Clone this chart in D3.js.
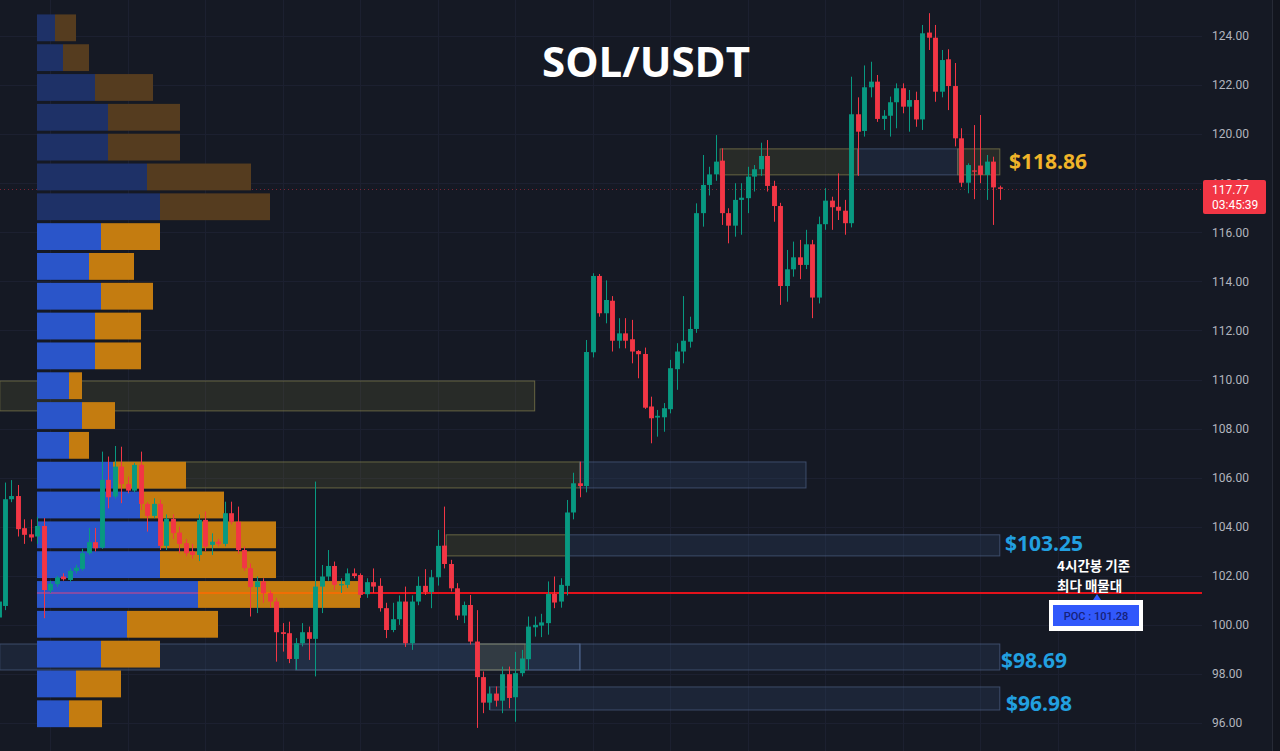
<!DOCTYPE html>
<html><head><meta charset="utf-8">
<script src="https://cdn.jsdelivr.net/npm/d3@7"></script>
<style>
html,body{margin:0;padding:0;background:#151924;overflow:hidden}
svg{display:block}
</style></head><body>
<svg id="chart" width="1280" height="751"></svg>
<script>
// ---------------- DATA ----------------
const title = "SOL/USDT";
const priceTicks = [96,98,100,102,104,106,108,110,112,114,116,118,120,122,124];
// 4h candles [open, high, low, close]
const candles = [
[100.3,101.1,100.1,100.95],[100.77,105.8,100.6,105.12],[105.12,105.9,105.0,105.25],[105.25,105.7,103.6,103.9],
[103.94,104.3,103.3,103.67],[103.69,104.3,103.4,103.56],[103.6,104.4,103.3,104.03],[104.03,104.35,100.27,101.42],
[101.4,101.8,101.3,101.67],[101.66,102.0,101.55,101.93],[101.97,102.1,101.8,101.86],[101.83,102.3,101.75,102.2],
[102.2,102.45,102.1,102.33],[102.28,103.1,102.2,102.92],[102.92,103.95,102.85,103.37],[103.37,103.95,102.99,103.12],
[103.15,107.06,103.1,105.91],[105.91,106.86,104.75,105.2],[105.23,107.29,105.15,106.45],[106.45,107.26,104.96,105.74],
[105.74,106.04,105.36,105.47],[105.47,106.6,105.4,106.52],[106.52,107.06,104.68,104.93],[104.93,105.0,103.8,104.44],
[104.44,105.16,104.35,104.93],[104.93,105.1,103.05,103.22],[103.22,104.5,103.05,104.32],[104.32,104.5,103.5,103.74],
[103.76,104.0,102.92,103.3],[103.33,103.5,102.8,102.92],[102.99,103.3,102.7,102.85],[102.85,104.5,102.6,104.28],
[104.28,104.62,103.0,103.19],[103.26,103.73,102.85,103.39],[103.39,103.5,103.2,103.3],[103.3,105.02,103.2,104.55],
[104.55,105.02,104.1,104.2],[104.2,104.82,102.9,103.05],[103.05,103.2,102.2,102.31],[102.31,102.5,100.34,101.54],
[101.54,101.97,100.48,101.77],[101.77,101.9,100.9,101.29],[101.29,101.4,100.7,100.95],[100.95,101.1,98.5,99.7],
[99.7,100.07,98.91,99.63],[99.66,100.13,98.44,98.61],[98.61,99.46,98.16,99.25],[99.25,100.07,99.12,99.7],
[99.7,99.93,98.57,99.43],[99.43,105.84,97.9,101.56],[101.56,102.44,100.48,101.97],[101.97,103.05,101.8,102.4],
[102.4,102.58,101.42,101.63],[101.62,101.9,101.3,101.66],[101.63,102.3,101.5,102.1],[102.1,102.3,101.9,101.99],
[102.03,102.1,101.1,101.22],[101.25,101.9,101.1,101.74],[101.74,102.3,101.3,101.56],[101.59,101.9,100.54,100.68],
[100.68,100.9,99.46,99.79],[99.79,100.9,99.7,100.23],[100.23,101.2,100.0,100.95],[100.95,101.56,99.1,99.25],
[99.25,101.2,98.98,100.95],[100.95,101.97,100.8,101.59],[101.59,102.27,101.22,101.34],[101.34,102.24,100.68,101.94],
[101.94,103.87,101.6,103.22],[103.23,104.82,102.3,102.48],[102.48,102.65,101.36,101.49],[101.49,101.7,100.2,100.38],
[100.38,100.95,100.07,100.81],[100.81,101.22,99.2,99.32],[99.32,100.6,95.8,97.87],[97.87,98.1,96.4,96.83],
[96.83,97.49,96.53,97.2],[97.2,97.49,96.67,96.91],[96.91,98.3,96.4,97.99],[97.99,98.3,96.6,97.02],
[97.05,98.9,96.05,98.03],[98.03,98.98,97.9,98.63],[98.6,100.34,98.16,99.93],[99.9,100.34,99.52,100.0],
[99.97,100.45,99.5,100.1],[100.07,101.77,99.6,101.26],[101.26,101.97,100.68,100.91],[100.95,101.9,100.7,101.63],
[101.59,105.09,101.2,104.58],[104.58,106.2,104.3,105.77],[105.77,106.65,105.2,105.66],[105.66,111.61,105.4,111.12],
[111.11,114.33,110.9,114.22],[114.22,114.3,112.56,112.7],[112.7,114.04,112.29,113.24],[113.21,113.4,111.14,111.58],
[111.58,112.5,111.27,111.88],[111.88,112.5,111.27,111.58],[111.64,112.43,110.66,111.14],[111.16,111.2,110.05,111.03],
[111.04,111.3,108.8,108.85],[108.9,109.3,107.4,108.42],[108.45,108.76,107.67,108.52],[108.46,109.04,107.87,108.83],
[108.79,110.8,108.62,110.46],[110.42,111.48,109.58,111.14],[111.14,113.4,110.66,111.58],[111.54,112.56,111.3,112.06],
[112.06,117.18,111.9,116.78],[116.78,119.15,116.23,117.93],[117.93,118.67,117.5,118.36],[118.36,119.96,118.1,118.88],
[118.92,119.42,116.3,116.78],[116.78,116.98,115.55,116.27],[116.27,118.0,115.82,117.32],[117.32,118.0,115.9,117.41],
[117.39,118.67,116.78,118.27],[118.27,118.74,117.66,118.57],[118.57,119.65,118.3,119.11],[119.11,119.76,117.66,117.89],
[117.89,118.1,116.43,117.07],[117.07,117.2,113.04,113.81],[113.81,115.28,113.17,114.49],[114.49,115.62,114.19,114.98],
[114.98,115.69,114.09,114.67],[114.67,116.1,114.5,115.51],[115.51,115.69,112.5,113.34],[113.34,116.64,113.1,116.33],
[116.33,117.8,116.1,117.29],[117.29,117.45,116.1,117.02],[117.04,118.4,116.5,116.88],[116.88,117.32,115.9,116.37],
[116.37,122.34,116.2,120.81],[120.81,121.5,118.3,120.1],[120.13,122.8,119.9,121.91],[121.91,122.95,121.5,122.14],
[122.14,122.41,120.5,120.62],[120.62,120.98,120.17,120.75],[120.75,121.53,119.9,121.3],[121.3,122.07,120.24,121.87],
[121.87,122.07,120.85,121.12],[121.12,121.8,120.1,121.39],[121.39,121.73,120.3,120.6],[120.6,124.45,120.17,124.11],
[124.14,124.93,123.43,123.93],[123.93,124.45,121.32,121.73],[121.73,123.43,121.5,123.02],[123.05,123.46,120.98,121.96],
[121.96,122.9,119.5,119.83],[119.83,120.24,117.85,118.02],[118.02,118.81,117.59,118.74],[118.52,120.37,117.35,118.48],
[118.72,120.78,118.0,118.34],[118.34,119.15,117.32,118.88],[118.88,119.08,116.3,117.83],[117.83,117.9,117.32,117.77]
];
// Volume profile (24 price rows, top -> bottom)
const vpTopPrice = 124.9;
const vpRowSize = 1.2155;
const vpBuy  = [18,26,58,71,71,110,123, 64,52,64,58,58,32,45,32,76,103,123,123,161,90,64,39,32];
const vpSell = [21,26,58,72,72,104,110, 59,45,52,46,46,13,33,20,73,84,116,116,162,91,59,45,33];
const vpValueAreaFrom = 7;
const pocPrice = 101.28;
const lastPrice = 117.77;
const countdown = "03:45:39";
// zones: [kind, startCandle, endCandle, topPrice, bottomPrice]
const zones = [
 ["olive",0.2,83,109.94,108.72],
 ["olive",18,90,106.64,105.58],["blue",90,125,106.64,105.58],
 ["olive",69.3,88,103.67,102.81],["blue",88,155,103.67,102.81],
 ["blue",0.2,90,99.22,98.16],["blue",46,90,99.22,98.16],["blue",90,155,99.22,98.16],["olive",73.9,81.5,99.22,98.16],
 ["blue",76.1,155,97.47,96.53],
 ["olive",111.7,133,119.4,118.34],["blue",133,148.5,119.4,118.34],["olive",148.5,155,119.4,118.34]
];
const levelNames = ["$118.86","$103.25","$98.69","$96.98"];
const levelPrices = [118.86,103.25,98.69,96.98];
const levelKinds = ["gold","blue","blue","blue"];
const noteLines = ["4시간봉 기준","최다 매물대"];
const pocText = "POC : 101.28";

// ---------------- LAYOUT ----------------
const W=1280,H=751,plotRight=1202;
const levelX = [1009,1005,1001,1006];
const levelDy = [7,6,11,12];
const svg=d3.select("#chart");
svg.append("rect").attr("width",W).attr("height",H).attr("fill","#151924");

const y=d3.scaleLinear().domain([96,124]).range([723,36]);
const x=d3.scaleLinear().domain([0,candles.length-1]).range([-1.5,999.8]);
const step=x(1)-x(0);
const volX=d3.scaleLinear().domain([0,323]).range([37,360]);

svg.append("clipPath").attr("id","plotclip").append("rect").attr("x",0).attr("y",0).attr("width",plotRight).attr("height",H);
const plot=svg.append("g").attr("clip-path","url(#plotclip)");

// grid
plot.append("g").selectAll("line").data(priceTicks).join("line")
 .attr("x1",0).attr("x2",plotRight)
 .attr("y1",d=>Math.round(y(d))+0.5).attr("y2",d=>Math.round(y(d))+0.5)
 .attr("stroke","#1c2030").attr("stroke-width",1);
const vIdx=d3.range(8,190,12).filter(i=>x(i)<plotRight);
plot.append("g").selectAll("line").data(vIdx).join("line")
 .attr("x1",d=>Math.round(x(d))+0.5).attr("x2",d=>Math.round(x(d))+0.5)
 .attr("y1",0).attr("y2",H)
 .attr("stroke","#1c2030").attr("stroke-width",1);

// zones
const zoneStyle={olive:{fill:"rgba(120,115,60,0.20)",stroke:"rgba(150,145,85,0.6)"},
                 blue:{fill:"rgba(55,80,125,0.22)",stroke:"rgba(85,105,145,0.6)"}};
plot.append("g").selectAll("rect").data(zones).join("rect")
 .attr("x",d=>x(d[1])).attr("width",d=>x(d[2])-x(d[1]))
 .attr("y",d=>y(d[3])).attr("height",d=>y(d[4])-y(d[3]))
 .attr("fill",d=>zoneStyle[d[0]].fill).attr("stroke",d=>zoneStyle[d[0]].stroke).attr("stroke-width",1);

// current price dotted line
plot.append("line").attr("x1",0).attr("x2",plotRight)
 .attr("y1",Math.round(y(lastPrice))+0.5).attr("y2",Math.round(y(lastPrice))+0.5)
 .attr("stroke","#f23645").attr("stroke-opacity",0.45).attr("stroke-dasharray","1,3");

// POC line
const pocY=Math.round(y(pocPrice));
plot.append("line").attr("x1",37).attr("x2",plotRight)
 .attr("y1",pocY).attr("y2",pocY)
 .attr("stroke","#e3121b").attr("stroke-width",2);

// volume profile
const vp=plot.append("g");
vpBuy.forEach((b,i)=>{
  const top=y(vpTopPrice-i*vpRowSize), bot=y(vpTopPrice-(i+1)*vpRowSize);
  const inVA=i>=vpValueAreaFrom;
  vp.append("rect").attr("x",volX(0)).attr("y",top+0.5).attr("width",volX(b)-volX(0)).attr("height",bot-top-3)
    .attr("fill",inVA?"#2a55c9":"#1e3167");
  vp.append("rect").attr("x",volX(b)).attr("y",top+0.5).attr("width",volX(b+vpSell[i])-volX(b)).attr("height",bot-top-3)
    .attr("fill",inVA?"#c47c10":"#553c1f");
});
// POC line across profile bar
const pocRow=Math.floor((vpTopPrice-pocPrice)/vpRowSize);
vp.append("line").attr("x1",volX(0)).attr("x2",volX(vpBuy[pocRow]))
 .attr("y1",pocY).attr("y2",pocY).attr("stroke","#a04a9a").attr("stroke-width",1.6);
vp.append("line").attr("x1",volX(vpBuy[pocRow])).attr("x2",volX(vpBuy[pocRow]+vpSell[pocRow]))
 .attr("y1",pocY).attr("y2",pocY).attr("stroke","#ff6a00").attr("stroke-width",1.6);

// candles
const up="#089981", dn="#f23645";
const bw=step*0.76;
const cg=plot.append("g").selectAll("g").data(candles).join("g");
cg.append("line")
 .attr("x1",(d,i)=>Math.round(x(i))+0.5).attr("x2",(d,i)=>Math.round(x(i))+0.5)
 .attr("y1",d=>y(Math.max(d[1],d[0],d[3]))).attr("y2",d=>y(Math.min(d[2],d[0],d[3])))
 .attr("stroke",d=>d[3]>=d[0]?up:dn).attr("stroke-width",1);
cg.append("rect")
 .attr("x",(d,i)=>Math.round(x(i))+0.5-bw/2).attr("width",bw)
 .attr("y",d=>y(Math.max(d[0],d[3])))
 .attr("height",d=>Math.max(1.2,Math.abs(y(d[0])-y(d[3]))))
 .attr("fill",d=>d[3]>=d[0]?up:dn);

// level labels
svg.append("g").selectAll("text").data(levelNames).join("text")
 .attr("x",(d,i)=>levelX[i]).attr("y",(d,i)=>y(levelPrices[i])+levelDy[i])
 .attr("fill",(d,i)=>levelKinds[i]==="gold"?"#f0b429":"#22a0e0")
 .style("font","bold 21px 'Open Sans', 'Noto Sans', sans-serif")
 .text(d=>d);

// title
svg.append("text").attr("x",646).attr("y",77).attr("text-anchor","middle")
 .attr("fill","#ffffff").style("font","bold 42px 'Open Sans', 'Noto Sans', sans-serif").text(title);

// Korean note
svg.append("g").selectAll("text").data(noteLines).join("text")
 .attr("x",1057).attr("y",(d,i)=>571+i*20)
 .attr("fill","#ffffff").style("font","700 13.5px 'Noto Sans CJK KR', sans-serif").text(d=>d);

// POC badge
svg.append("path").attr("d",`M1093,${pocY+7} L1097,${pocY+1} L1101,${pocY+7} Z`).attr("fill","#2f5bff");
svg.append("rect").attr("x",1049).attr("y",600).attr("width",94).attr("height",31).attr("fill","#ffffff");
svg.append("rect").attr("x",1053).attr("y",605).attr("width",86).attr("height",21).attr("fill","#3158fb");
svg.append("text").attr("x",1096).attr("y",620).attr("text-anchor","middle")
 .attr("fill","#15217a").style("font","500 11px Roboto, sans-serif").text(pocText);

// right axis
const axis=d3.axisRight(y).tickValues(priceTicks).tickFormat(d3.format(".2f")).tickSize(0).tickPadding(10);
svg.append("g").attr("transform",`translate(${plotRight},0)`).call(axis)
 .call(g=>g.select(".domain").remove())
 .selectAll("text").attr("fill","#b2b5be").style("font","12px Roboto, sans-serif");

// last price tag (covers the 118.00 tick label as in the source)
svg.append("rect").attr("x",1203).attr("y",180).attr("width",63).attr("height",34).attr("rx",2).attr("fill","#f23645");
svg.append("text").attr("x",1212).attr("y",194).attr("fill","#ffffff").style("font","12px Roboto, sans-serif").text(lastPrice.toFixed(2));
svg.append("text").attr("x",1212).attr("y",209).attr("fill","#ffffff").style("font","12px Roboto, sans-serif").text(countdown);

// right edge
svg.append("rect").attr("x",1272).attr("y",0).attr("width",8).attr("height",H).attr("fill","#12151e");
svg.append("line").attr("x1",1272.5).attr("x2",1272.5).attr("y1",0).attr("y2",H).attr("stroke","#262a36");
</script>
</body></html>
